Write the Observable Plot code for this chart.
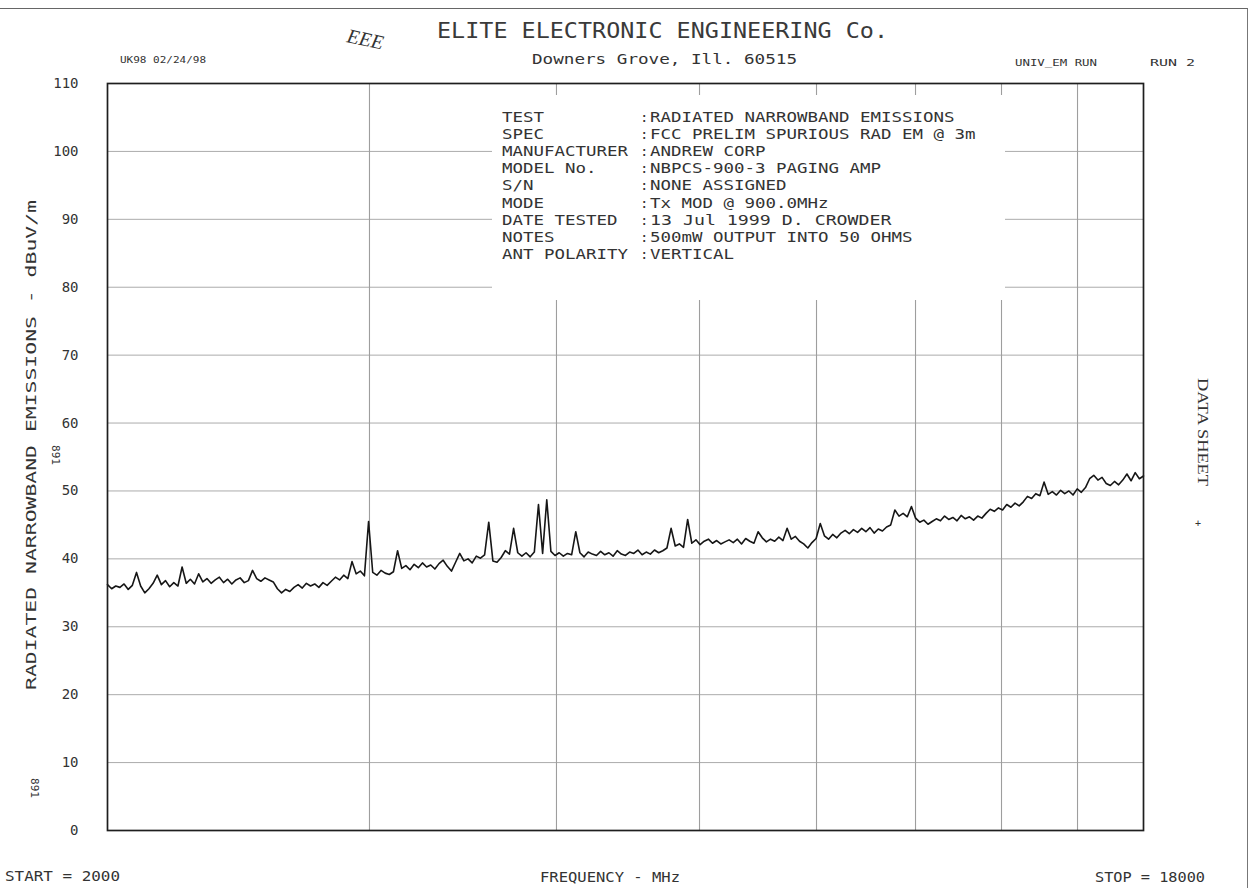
<!DOCTYPE html>
<html>
<head>
<meta charset="utf-8">
<script src="https://cdn.jsdelivr.net/npm/d3@7"></script>
<script src="https://cdn.jsdelivr.net/npm/@observablehq/plot@0.6"></script>
<style>
html,body{margin:0;padding:0;background:#fff;}
#wrap{position:relative;width:1256px;height:888px;overflow:hidden;background:#fff;}
#wrap > svg{position:absolute;left:0;top:0;}
#page{position:absolute;left:-4px;top:8px;width:1252px;height:900px;border-top:1.5px solid #666;border-right:1.5px solid #777;box-sizing:border-box;}
#box{position:absolute;left:492px;top:95px;width:513px;height:205px;background:#fff;}
#ann{position:absolute;left:0;top:0;pointer-events:none;}
</style>
</head>
<body>
<div id="wrap"><div id="page"></div></div>
<script>
// ---- data ----
const START = 2000;          // MHz
const STOP = 18000;          // MHz
const yTicks = [0, 10, 20, 30, 40, 50, 60, 70, 80, 90, 100, 110];
const gridFreqs = [6046, 8934, 11143, 12950, 14479, 15807, 16981];
// measured level (dBuV/m), uniform sweep from START to STOP
const levels = [
  36.2, 35.6, 36.0, 35.8, 36.3, 35.5, 36.1, 38.0, 36.0, 35.0,
  35.6, 36.4, 37.6, 36.2, 36.8, 35.9, 36.5, 36.0, 38.8, 36.4,
  37.0, 36.3, 37.8, 36.6, 37.1, 36.4, 36.9, 37.3, 36.5, 37.0,
  36.3, 36.9, 37.2, 36.5, 36.8, 38.3, 37.1, 36.7, 37.2, 36.9,
  36.6, 35.6, 35.0, 35.5, 35.2, 35.8, 36.2, 35.7, 36.4, 36.0,
  36.3, 35.8, 36.5, 36.1, 36.7, 37.3, 36.9, 37.6, 37.1, 39.6,
  37.8, 38.2, 37.5, 45.5, 38.0, 37.6, 38.3, 37.9, 37.7, 38.1,
  41.2, 38.6, 39.0, 38.4, 39.2, 38.7, 39.4, 38.8, 39.1, 38.5,
  39.3, 39.8, 38.9, 38.2, 39.5, 40.8, 39.7, 40.0, 39.4, 40.4,
  40.1, 40.6, 45.4, 39.7, 39.5, 40.2, 41.2, 40.7, 44.5, 40.9,
  40.4, 40.9, 40.3, 41.0, 48.0, 40.8, 48.7, 41.1, 40.5, 40.9,
  40.4, 40.8, 40.6, 44.0, 40.9, 40.3, 41.0, 40.7, 40.5, 41.1,
  40.6, 40.9, 40.4, 41.2, 40.7, 40.5, 41.0, 40.8, 41.3, 40.6,
  41.0, 40.7, 41.3, 40.9, 41.2, 41.6, 44.5, 41.9, 42.2, 41.7,
  45.8, 42.3, 42.8, 42.1, 42.6, 42.9, 42.3, 42.7, 42.2, 42.5,
  42.8, 42.4, 42.9, 42.2, 43.0, 42.6, 42.3, 44.0, 43.1, 42.5,
  42.9, 42.6, 43.2, 42.7, 44.5, 42.9, 43.3, 42.6, 42.2, 41.6,
  42.4, 43.0, 45.2, 43.4, 42.9, 43.6, 43.1, 43.8, 44.2, 43.7,
  44.3, 43.9, 44.5, 44.0, 44.6, 43.8, 44.4, 44.1, 44.7, 45.0,
  47.2, 46.3, 46.7, 46.2, 47.7, 46.0, 45.4, 45.7, 45.1, 45.5,
  45.9, 45.6, 46.3, 45.8, 46.1, 45.6, 46.4, 45.9, 46.2, 45.7,
  46.3, 46.0, 46.7, 47.3, 47.0, 47.5, 47.2, 48.0, 47.6, 48.2,
  47.8, 48.4, 49.2, 48.9, 49.6, 49.3, 51.3, 49.5, 49.9, 49.4,
  50.1, 49.6, 50.0, 49.4, 50.3, 49.8, 50.5, 51.8, 52.3, 51.6,
  52.0, 51.1, 50.8, 51.4, 50.9, 51.6, 52.5, 51.5, 52.7, 51.8, 52.2
];
const company = "ELITE ELECTRONIC ENGINEERING Co.";
const address = "Downers Grove, Ill. 60515";
const plotId = "UK98  02/24/98";
const runName = "UNIV_EM RUN";
const runNo = "RUN 2";
const yLabel = "RADIATED NARROWBAND EMISSIONS - dBuV/m";
const xLabel = "FREQUENCY - MHz";
const infoLabels = ["TEST", "SPEC", "MANUFACTURER", "MODEL No.", "S/N", "MODE", "DATE TESTED", "NOTES", "ANT POLARITY"];
const infoValues = ["RADIATED NARROWBAND EMISSIONS", "FCC PRELIM SPURIOUS RAD EM @ 3m", "ANDREW CORP",
  "NBPCS-900-3 PAGING AMP", "NONE ASSIGNED", "Tx MOD @ 900.0MHz", "13 Jul 1999  D. CROWDER",
  "500mW OUTPUT INTO 50 OHMS", "VERTICAL"];

// ---- build ----
const step = (STOP - START) / (levels.length - 1);
const trace = levels.map((v, i) => ({f: START + i * step, dB: v}));
const MONO = "DejaVu Sans Mono, Liberation Mono, monospace";
const INK = "#333";

const chart = Plot.plot({
  width: 1256, height: 888,
  marginLeft: 107, marginRight: 113, marginTop: 83, marginBottom: 58,
  style: {background: "transparent", fontFamily: MONO, fontSize: "14px", color: INK},
  x: {type: "linear", domain: [START, STOP], axis: null},
  y: {domain: [0, 110], axis: null},
  marks: [
    Plot.ruleY(yTicks.filter(d => d > 0 && d < 110), {stroke: "#ababab", strokeWidth: 1}),
    Plot.ruleX(gridFreqs, {stroke: "#9e9e9e", strokeWidth: 1.1}),
    Plot.axisY(yTicks, {tickSize: 0, tickPadding: 29, label: null, tickFormat: d => String(d), fill: INK, fontSize: 14}),
    Plot.line(trace, {x: "f", y: "dB", stroke: "#161616", strokeWidth: 1.6}),
    Plot.frame({stroke: "#1e1e1e", strokeWidth: 1.7})
  ]
});
const wrap = document.getElementById("wrap");
wrap.appendChild(chart);
const box = document.createElement("div");
box.id = "box";
wrap.appendChild(box);

// annotations layer
const svg = d3.select(wrap).append("svg").attr("id", "ann").attr("width", 1256).attr("height", 888);
function txt(s, x, y, opt = {}) {
  const t = svg.append("text").attr("x", x).attr("y", y).text(s)
    .attr("font-family", opt.family || MONO).attr("font-size", opt.size || 14)
    .attr("fill", opt.fill || INK).attr("text-anchor", opt.anchor || "start");
  if (opt.len) t.attr("textLength", opt.len).attr("lengthAdjust", "spacingAndGlyphs");
  if (opt.rotate) t.attr("transform", `rotate(${opt.rotate},${x},${y})`);
  if (opt.style) t.attr("font-style", opt.style);
  return t;
}
txt(company, 437, 38, {size: 21, len: 451, fill: "#3a3a3a"});
txt(address, 532, 64, {size: 14, len: 265});
txt("EEE", 346, 42, {size: 20, family: "Liberation Serif, serif", style: "italic", rotate: 12});
txt(plotId, 120, 63, {size: 9.5, len: 86});
txt(runName, 1015, 66, {size: 9.5, len: 82});
txt(runNo, 1150, 66, {size: 9.5, len: 45});
txt(yLabel, 36, 445, {size: 14, len: 490, anchor: "middle", rotate: -90});
txt("START = " + START, 5, 881, {size: 14, len: 115});
txt(xLabel, 540, 882, {size: 14, len: 140});
txt("STOP = " + STOP, 1095, 882, {size: 14, len: 110});
txt("DATA SHEET", 1198, 432, {size: 15, family: "Liberation Serif, serif", len: 108, anchor: "middle", rotate: 90});
txt("+", 1198, 527, {size: 10, anchor: "middle"});
txt("891", 52, 455, {size: 11, anchor: "middle", rotate: 90});
txt("891", 31, 788, {size: 11, anchor: "middle", rotate: 90});
infoLabels.forEach((s, i) => {
  const y = 122 + i * 17.1;
  txt(s, 502, y, {size: 14, len: s.length * 10.5});
  txt(":", 640, y, {size: 14});
  txt(infoValues[i], 650, y, {size: 14, len: infoValues[i].length * 10.5});
});
</script>
</body>
</html>
